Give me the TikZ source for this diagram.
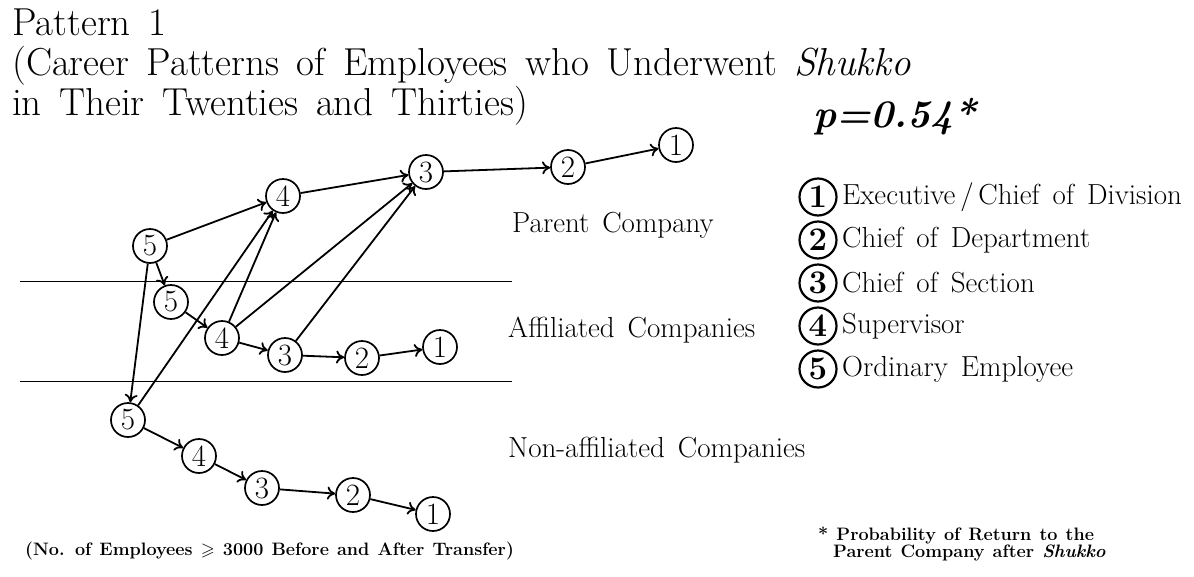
\documentclass[tikz,border=0pt]{standalone}
\usepackage{fontspec}
\usepackage{amssymb}
\usetikzlibrary{arrows.meta}

\newcommand{\widesp}{\spaceskip=0.45em plus 0.1em\relax}
\tikzset{
  rank/.style={circle,draw,line width=1.7pt,inner sep=0pt,minimum size=34pt,
    font=\fontsize{31}{31}\selectfont},
  keyrank/.style={circle,draw,line width=2.2pt,inner sep=0pt,minimum size=37pt,
    font=\fontsize{33}{33}\selectfont\bfseries},
  lbl/.style={anchor=base west,inner sep=0pt,font=\fontsize{29}{29}\selectfont\widesp},
  ttl/.style={anchor=base west,inner sep=0pt,font=\fontsize{39}{39}\selectfont\widesp},
  move/.style={-{Computer Modern Rightarrow[length=8pt,width=13pt]},line width=1.8pt}
}

\begin{document}
\begin{tikzpicture}[x=1pt,y=-1pt]
   \useasboundingbox (0,0) rectangle (1194,576);
   % title
   \node[ttl] (t1) at (12,35) {Pattern 1};
   \node[ttl] (t2) at (12,75) {(Career Patterns of Employees who Underwent \textit{Shukko}};
   \node[ttl] (t3) at (12,115) {in Their Twenties and Thirties)};
   \node[anchor=base west,inner sep=0pt,font=\fontsize{39}{39}\selectfont\bfseries\itshape] (prob) at (813,127) {p=0.54*};
   % borders between the kinds of company
   \draw[line width=1pt] (20,281) -- (512,281);
   \draw[line width=1pt] (20,381) -- (512,381);
   \node[lbl] (parent) at (512,232) {Parent Company};
   \node[lbl] (affil) at (508,337) {Affiliated Companies};
   \node[lbl] (nonaffil) at (508,457) {Non-affiliated Companies};
   % parent company
   \node[rank] (p5) at (150,246) {5};
   \node[rank] (p4) at (283,196) {4};
   \node[rank] (p3) at (426,172) {3};
   \node[rank] (p2) at (568,167) {2};
   \node[rank] (p1) at (676,145) {1};
   % affiliated companies
   \node[rank] (a5) at (171,302) {5};
   \node[rank] (a4) at (222,338) {4};
   \node[rank] (a3) at (285,355) {3};
   \node[rank] (a2) at (362,358) {2};
   \node[rank] (a1) at (440,347) {1};
   % non-affiliated companies
   \node[rank] (n5) at (128,420) {5};
   \node[rank] (n4) at (199,456) {4};
   \node[rank] (n3) at (262,488) {3};
   \node[rank] (n2) at (353,495) {2};
   \node[rank] (n1) at (433,514) {1};
   \draw[move] (p5) -- (p4);
   \draw[move] (p4) -- (p3);
   \draw[move] (p3) -- (p2);
   \draw[move] (p2) -- (p1);
   \draw[move] (p5) -- (a5);
   \draw[move] (p5) -- (n5);
   \draw[move] (a5) -- (a4);
   \draw[move] (a4) -- (p4);
   \draw[move] (a4) -- (p3);
   \draw[move] (a4) -- (a3);
   \draw[move] (a3) -- (p3);
   \draw[move] (a3) -- (a2);
   \draw[move] (a2) -- (a1);
   \draw[move] (n5) -- (p4);
   \draw[move] (n5) -- (n4);
   \draw[move] (n4) -- (n3);
   \draw[move] (n3) -- (n2);
   \draw[move] (n2) -- (n1);
   % key
   \foreach \k/\y/\txt in {1/197/{Executive\,/\,Chief of Division},2/240/{Chief of Department},
      3/283/{Chief of Section},4/326/{Supervisor},5/369/{Ordinary Employee}} {
     \node[keyrank] (key\k) at (818,\y) {\k};
     \node[lbl,anchor=west] (keytxt\k) at (842,\y) {\txt};
   }
   % notes
   \node[anchor=base west,inner sep=0pt,font=\fontsize{18}{18}\selectfont\bfseries\widesp] (size) at (25,555)
      {(No. of Employees $\geqslant$ 3000 Before and After Transfer)};
   \node[anchor=base west,inner sep=0pt,font=\fontsize{18}{18}\selectfont\bfseries\widesp] (foot1) at (818,540)
      {* Probability of Return to the};
   \node[anchor=base west,inner sep=0pt,font=\fontsize{18}{18}\selectfont\bfseries\widesp] (foot2) at (833,557)
      {Parent Company after \textit{Shukko}};
\end{tikzpicture}
\end{document}
